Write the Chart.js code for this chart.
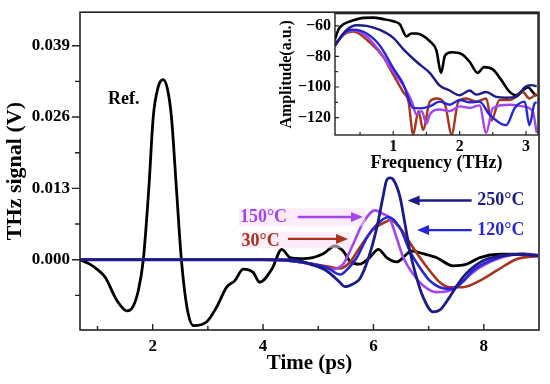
<!DOCTYPE html>
<html><head><meta charset="utf-8">
<script src="https://cdn.jsdelivr.net/npm/chart.js@4.4.1/dist/chart.umd.min.js"></script>
<style>
html,body{margin:0;padding:0;background:#fff;}
#wrap{position:relative;width:550px;height:384px;overflow:hidden;}
#main{position:absolute;left:0;top:0;}
#inset{position:absolute;left:270px;top:0;}
</style></head><body>
<div id="wrap"><canvas id="main" width="550" height="384"></canvas><canvas id="inset" width="276" height="176"></canvas></div>
<script>
// ---------- time-domain data (ps, V) ----------
const timeRef = [0.68,0.86,1.0,1.14,1.35,1.53,1.62,1.74,1.83,1.93,2.01,2.1,2.19,2.27,2.34,2.43,2.52,2.62,2.74,2.98,3.16,3.34,3.49,3.64,3.82,3.94,4.16,4.34,4.49,4.72,4.9,5.09,5.3,5.45,5.57,5.75,5.93,6.09,6.24,6.42,6.6,6.68,6.9,7.14,7.44,7.69,7.93,8.29,8.71,8.98];
const sigRef  = [0,-0.0008,-0.0018,-0.0032,-0.0074,-0.0093,-0.0089,-0.0056,0,0.013,0.026,0.0315,0.0328,0.031,0.026,0.013,0,-0.0086,-0.012,-0.0113,-0.0086,-0.005,-0.0038,-0.0017,-0.0023,-0.0041,-0.0017,0.0019,0.0004,0.0002,0.0004,0.0011,0.0025,0.0016,-0.0002,-0.0008,0.0004,0.0019,0.0004,-0.0004,0.001,0.0016,0.0011,0.0004,-0.0011,-0.0008,0.0004,0.001,0.001,0.0007];

const time30 = [0.68,4.0,4.5,4.9,5.2,5.39,5.57,5.75,5.99,6.24,6.3,6.48,6.66,6.84,7.02,7.2,7.38,7.62,7.93,8.23,8.59,8.98];
const sig30  = [0,0,-0.0002,-0.0008,-0.0013,-0.0016,-0.0005,0.0022,0.0055,0.007,0.0073,0.0058,0.0031,0.0004,-0.002,-0.0041,-0.005,-0.005,-0.0038,-0.002,0.0001,0.0007];

const time120 = [0.68,4.0,4.5,4.9,5.15,5.4,5.55,5.7,5.88,6.06,6.27,6.48,6.66,6.84,7.02,7.2,7.42,7.62,7.8,8.11,8.59,8.98];
const sig120  = [0,0,-0.0002,-0.0008,-0.0014,-0.0027,-0.0015,0.0004,0.004,0.0064,0.0078,0.0058,0.0016,-0.0014,-0.0038,-0.005,-0.0053,-0.004,-0.002,-0.0002,0.001,0.0007];

const time150 = [0.68,4.0,4.5,4.9,5.27,5.45,5.63,5.81,6.03,6.18,6.29,6.42,6.54,6.72,6.9,7.14,7.38,7.62,7.93,8.29,8.71,8.98];
const sig150  = [0,0,-0.0002,-0.0008,-0.0017,-0.0008,0.0028,0.0067,0.009,0.0083,0.0076,0.004,0.0004,-0.0026,-0.0047,-0.0059,-0.0056,-0.0038,-0.0014,0.0003,0.0011,0.0009];

const time250 = [0.68,4.0,4.54,4.85,5.15,5.39,5.48,5.63,5.75,5.9,6.06,6.17,6.24,6.3,6.36,6.48,6.56,6.66,6.78,6.9,7.08,7.2,7.38,7.62,7.93,8.29,8.71,8.98];
const sig250  = [0,0,0,-0.0008,-0.002,-0.0041,-0.0049,-0.0044,-0.0035,0,0.0058,0.0113,0.0145,0.0149,0.0146,0.0115,0.0072,0.0016,-0.0032,-0.0068,-0.0095,-0.0092,-0.0068,-0.0032,-0.0005,0.0007,0.001,0.0007];

const timeTicks = [2,4,6,8];
const sigTicks = [0,0.013,0.026,0.039];

// ---------- spectra (THz, a.u.) ----------
const freqRef = [0.12,0.18,0.25,0.4,0.55,0.7,0.85,1.0,1.1,1.2,1.27,1.35,1.45,1.55,1.65,1.72,1.78,1.88,2.03,2.15,2.27,2.37,2.5,2.62,2.75,2.85,2.95,3.03,3.1,3.16];
const ampRef  = [-69,-62,-59,-56.4,-54.8,-54.6,-55.6,-57,-59,-66.9,-65,-65,-66.5,-70,-76,-90.8,-79.4,-77.3,-78.5,-83.5,-90.8,-87,-88.5,-95,-103,-105.4,-102.3,-100.2,-103.3,-106];

const freq30 = [0.12,0.25,0.4,0.65,0.85,1.0,1.15,1.23,1.3,1.38,1.45,1.55,1.65,1.78,1.88,1.98,2.1,2.25,2.4,2.48,2.6,2.75,2.88,2.95,3.05,3.16];
const amp30  = [-73,-66,-63.7,-71,-80.4,-91.9,-103.3,-109.6,-131,-115.8,-128,-109.6,-107.5,-111.6,-131,-109.6,-107.5,-109.6,-107.5,-122,-108.5,-108.5,-105.4,-103.3,-107.5,-104.4];

const freq120 = [0.12,0.25,0.4,0.6,0.8,1.0,1.15,1.3,1.4,1.55,1.7,1.85,2.0,2.15,2.3,2.45,2.7,2.83,2.98,3.05,3.13,3.16];
const amp120  = [-73,-65,-62.5,-65,-73,-87.7,-98,-113.7,-114,-112.7,-109.6,-111.6,-108.5,-110,-109.6,-118,-125,-113.7,-109.6,-125,-110.6,-110];

const freq150 = [0.12,0.25,0.4,0.6,0.8,1.0,1.18,1.28,1.35,1.43,1.5,1.55,1.7,1.85,2.0,2.15,2.3,2.4,2.5,2.75,2.95,3.1,3.16];
const amp150  = [-73,-65.5,-63,-67,-77,-89.8,-101,-109.6,-118,-115.8,-124,-118,-114.7,-115.8,-112.7,-113.7,-112,-130,-113.7,-111.6,-112.7,-115.8,-130];

const freq250 = [0.12,0.3,0.45,0.6,0.8,1.0,1.15,1.35,1.55,1.7,1.85,2.0,2.15,2.25,2.4,2.55,2.7,2.85,2.98,3.08,3.16];
const amp250  = [-73,-62.7,-59.6,-60,-62.7,-67.9,-75.2,-83.5,-90.8,-99.1,-102.3,-105.4,-102.3,-105,-103.3,-106.5,-107,-106.5,-100.2,-98.8,-99.5];

const freqTicks = [1,2,3];
const ampTicks = [-60,-80,-100,-120];

// ---------- helpers ----------
const SERIF = '"Liberation Serif","Times New Roman",serif';
const C_REF = '#000000', C_30 = '#a8341c', C_120 = '#2626d6', C_150 = '#a444ee', C_250 = '#1c1c88';
function pts(xs, ys){ return xs.map((x,i)=>({x:x, y:ys[i]})); }
function ds(label, xs, ys, color, order, w){
  return {label, data: pts(xs,ys), borderColor: color, backgroundColor: color, borderWidth: w,
    pointRadius: 0, fill:false, cubicInterpolationMode:'monotone', order};
}

function frameTicks(id, cfg){
  return { id, afterDraw(chart){
    const {ctx, chartArea:a, scales:{x,y}} = chart;
    ctx.save();
    ctx.strokeStyle = '#222'; ctx.lineWidth = cfg.lw;
    ctx.strokeRect(a.left, a.top, a.right-a.left, a.bottom-a.top);
    ctx.lineWidth = cfg.tw;
    ctx.beginPath();
    const xt = (vals, len) => vals.forEach(v=>{ const px = x.getPixelForValue(v);
      ctx.moveTo(px, a.bottom); ctx.lineTo(px, a.bottom + cfg.xdir*len); });
    const yt = (vals, len) => vals.forEach(v=>{ const py = y.getPixelForValue(v);
      ctx.moveTo(a.left, py); ctx.lineTo(a.left + cfg.ydir*len, py); });
    xt(cfg.xMajor, cfg.xMajLen); xt(cfg.xMinor, cfg.xMinLen);
    yt(cfg.yMajor, cfg.yMajLen); yt(cfg.yMinor, cfg.yMinLen);
    ctx.stroke();
    ctx.restore();
  }};
}

function arrow(ctx, x1, y, x2, color){
  const dir = Math.sign(x2-x1);
  ctx.strokeStyle = color; ctx.fillStyle = color; ctx.lineWidth = 2.4;
  ctx.beginPath(); ctx.moveTo(x1, y); ctx.lineTo(x2 - dir*9, y); ctx.stroke();
  ctx.beginPath(); ctx.moveTo(x2, y); ctx.lineTo(x2 - dir*12, y-5); ctx.lineTo(x2 - dir*12, y+5); ctx.closePath(); ctx.fill();
}

const annotations = {
  id:'annot',
  afterDatasetsDraw(chart){
    const {ctx, scales:{x,y}} = chart;
    const X = v => x.getPixelForValue(v), Y = v => y.getPixelForValue(v);
    ctx.save();
    // faint pink highlight boxes
    ctx.fillStyle = 'rgba(252,222,246,0.55)';
    ctx.fillRect(X(3.56), Y(0.0094), X(5.85)-X(3.56), Y(0.0061)-Y(0.0094));
    ctx.fillRect(X(3.59), Y(0.0051), X(5.58)-X(3.59), Y(0.0021)-Y(0.0051));
    ctx.font = 'bold 18px ' + SERIF;
    ctx.textBaseline = 'middle'; ctx.textAlign = 'left';
    ctx.fillStyle = C_REF; ctx.fillText('Ref.', X(1.19), Y(0.0293));
    ctx.fillStyle = C_150; ctx.fillText('150°C', X(3.58), Y(0.0078));
    ctx.fillStyle = C_30;  ctx.fillText('30°C', X(3.61), Y(0.0034));
    ctx.fillStyle = C_250; ctx.fillText('250°C', X(7.88), Y(0.0108));
    ctx.fillStyle = C_120; ctx.fillText('120°C', X(7.88), Y(0.0054));
    arrow(ctx, X(4.63), Y(0.0078), X(5.81), C_150);
    arrow(ctx, X(4.45), Y(0.0038), X(5.54), C_30);
    arrow(ctx, X(7.78), Y(0.0108), X(6.62), C_250);
    arrow(ctx, X(7.78), Y(0.0054), X(6.79), C_120);
    ctx.restore();
  }
};

// ---------- main chart ----------
new Chart(document.getElementById('main'), {
  type:'line',
  data:{ datasets:[
    ds('250°C', time250, sig250, C_250, 0, 2.8),
    ds('120°C', time120, sig120, C_120, 1, 2.6),
    ds('150°C', time150, sig150, C_150, 2, 2.6),
    ds('30°C',  time30,  sig30,  C_30, 3, 2.6),
    ds('Ref.',  timeRef, sigRef, C_REF, 4, 2.8)
  ]},
  options:{
    responsive:false, animation:false, devicePixelRatio:1,
    layout:{padding:{top:9,right:11,left:0,bottom:0}},
    plugins:{legend:{display:false}, tooltip:{enabled:false}},
    scales:{
      x:{ type:'linear', min:0.683, max:9.0,
        afterBuildTicks: s => { s.ticks = timeTicks.map(v=>({value:v})); },
        afterFit: s => { s.height = 54; },
        ticks:{ color:'#000', font:{family:SERIF, size:17, weight:'bold'}, padding:6, maxRotation:0, autoSkip:false, callback: v => String(v) },
        grid:{ display:true, drawOnChartArea:false, drawTicks:true, tickLength:0, color:'rgba(0,0,0,0)' },
        border:{display:false},
        title:{ display:true, text:'Time (ps)', color:'#000', font:{family:SERIF, size:21, weight:'bold'}, padding:{top:0,bottom:8} }
      },
      y:{ type:'linear', min:-0.0128, max:0.0451,
        afterBuildTicks: s => { s.ticks = sigTicks.map(v=>({value:v})); },
        afterFit: s => { s.width = 80; },
        ticks:{ color:'#000', font:{family:SERIF, size:17, weight:'bold'}, padding:2, autoSkip:false, callback: v => v.toFixed(3) },
        grid:{ display:true, drawOnChartArea:false, drawTicks:true, tickLength:8, color:'rgba(0,0,0,0)' },
        border:{display:false},
        title:{ display:true, text:'THz signal (V)', color:'#000', font:{family:SERIF, size:22, weight:'bold'}, padding:{top:2,bottom:0} }
      }
    }
  },
  plugins:[ frameTicks('mainFrame', {lw:1.6, tw:1.4, xdir:-1, ydir:-1,
      xMajor:timeTicks, xMinor:[1,3,5,7], xMajLen:6, xMinLen:4,
      yMajor:sigTicks, yMinor:[-0.0065,0.0065,0.0195,0.0325], yMajLen:8, yMinLen:5}), annotations ]
});

// ---------- inset chart ----------
new Chart(document.getElementById('inset'), {
  type:'line',
  data:{ datasets:[
    ds('250°C', freq250, amp250, C_250, 0, 2.4),
    ds('120°C', freq120, amp120, C_120, 1, 2.4),
    ds('150°C', freq150, amp150, C_150, 2, 2.4),
    ds('30°C',  freq30,  amp30,  C_30, 3, 2.4),
    ds('Ref.',  freqRef, ampRef, C_REF, 4, 2.6)
  ]},
  options:{
    responsive:false, animation:false, devicePixelRatio:1,
    layout:{padding:{top:8,right:8,left:0,bottom:0}},
    plugins:{legend:{display:false}, tooltip:{enabled:false}},
    scales:{
      x:{ type:'linear', min:0.123, max:3.18,
        afterBuildTicks: s => { s.ticks = freqTicks.map(v=>({value:v})); },
        afterFit: s => { s.height = 41; },
        ticks:{ color:'#000', font:{family:SERIF, size:16, weight:'bold'}, padding:2, maxRotation:0, autoSkip:false, callback: v => String(v) },
        grid:{ display:true, drawOnChartArea:false, drawTicks:true, tickLength:0, color:'rgba(0,0,0,0)' },
        border:{display:false},
        title:{ display:true, text:'Frequency (THz)', color:'#000', font:{family:SERIF, size:18, weight:'bold'}, padding:{top:0,bottom:2} }
      },
      y:{ type:'linear', min:-131.4, max:-52,
        afterBuildTicks: s => { s.ticks = ampTicks.map(v=>({value:v})); },
        afterFit: s => { s.width = 65; },
        ticks:{ color:'#000', font:{family:SERIF, size:16, weight:'bold'}, padding:4, autoSkip:false, callback: v => '\u2212' + Math.abs(v) },
        grid:{ display:true, drawOnChartArea:false, drawTicks:true, tickLength:0, color:'rgba(0,0,0,0)' },
        border:{display:false},
        title:{ display:true, text:'Amplitude(a.u.)', color:'#000', font:{family:SERIF, size:16, weight:'bold'}, padding:{top:7,bottom:0} }
      }
    }
  },
  plugins:[ frameTicks('insetFrame', {lw:1.4, tw:1.2, xdir:-1, ydir:1,
      xMajor:freqTicks, xMinor:[0.5,1.5,2.5], xMajLen:4, xMinLen:3,
      yMajor:ampTicks, yMinor:[-70,-90,-110], yMajLen:4, yMinLen:3}) ]
});
</script>
</body></html>
